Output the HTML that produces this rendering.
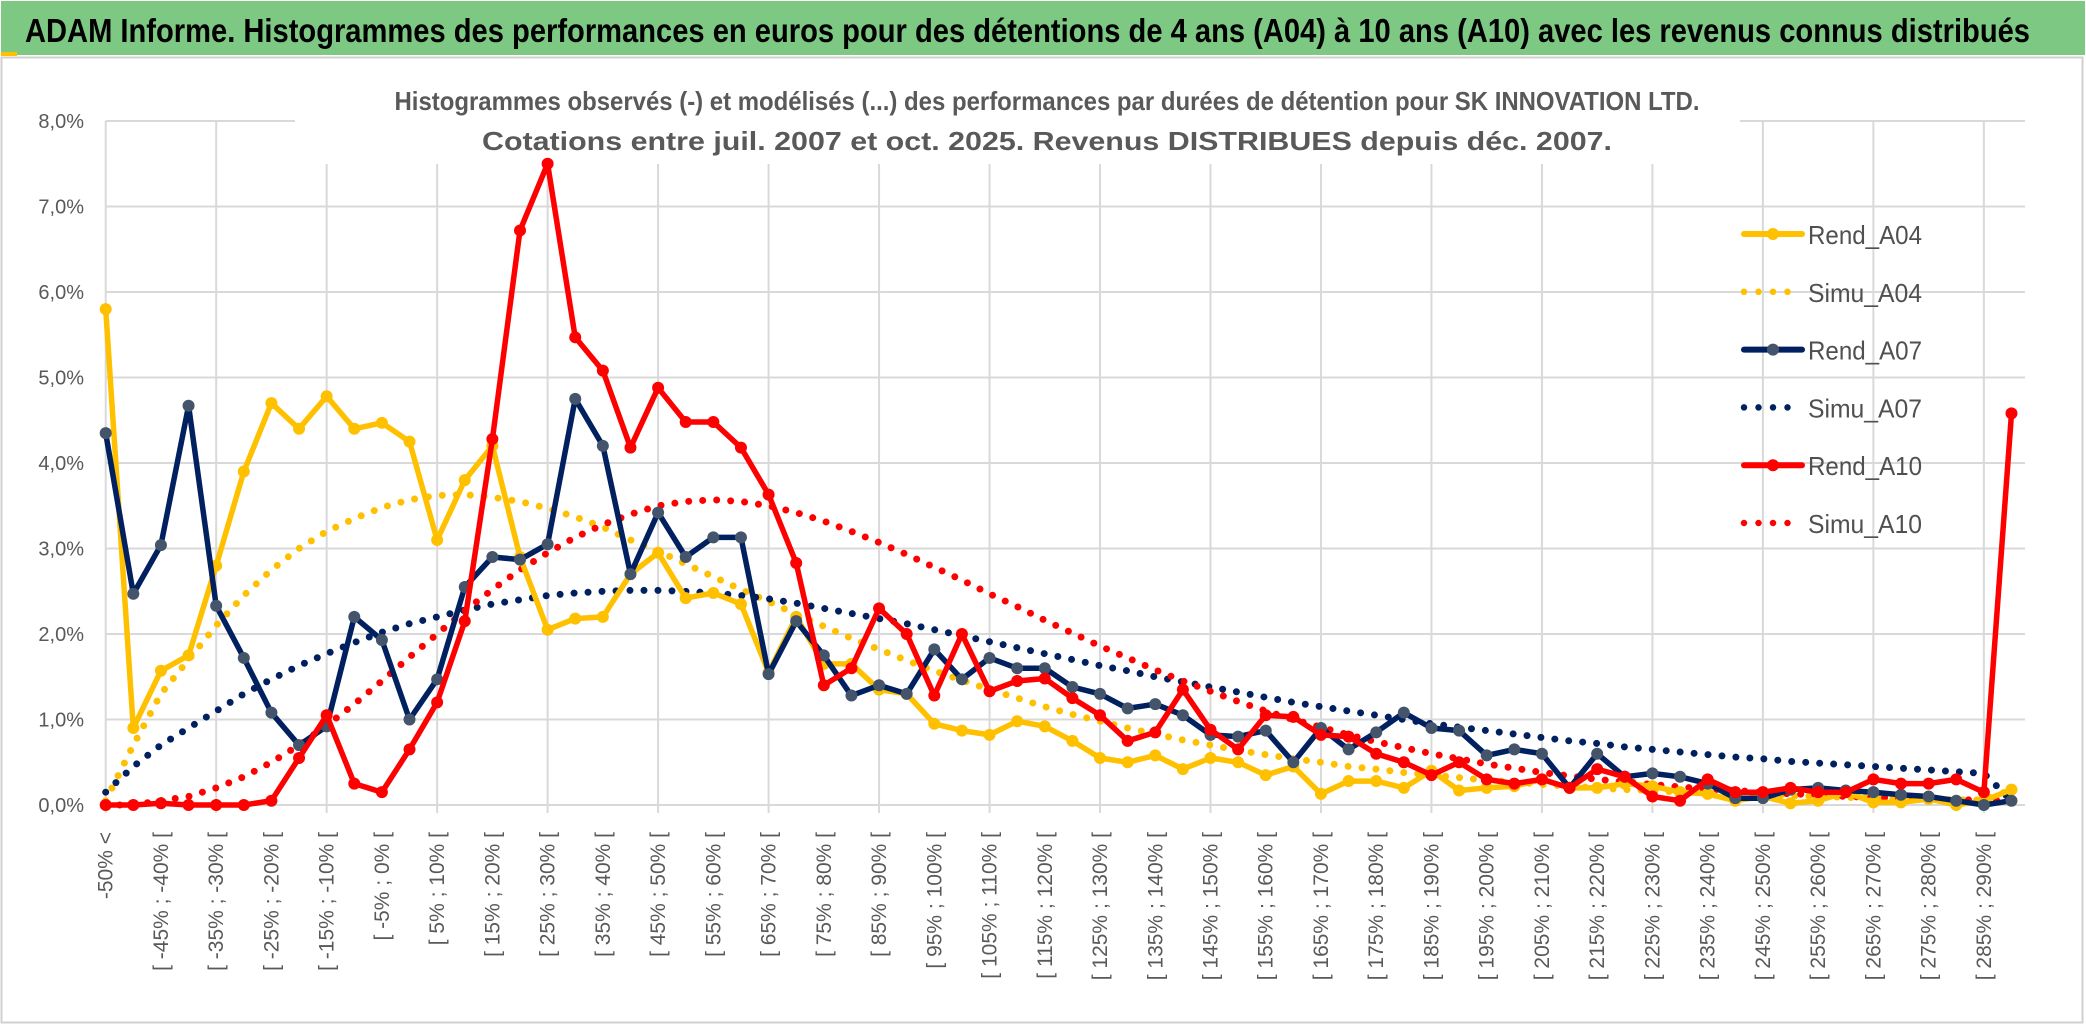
<!DOCTYPE html>
<html><head><meta charset="utf-8">
<style>
html,body{margin:0;padding:0;background:#fff;}
svg{display:block;font-family:"Liberation Sans",sans-serif;}
</style></head>
<body>
<svg id="chart" width="2086" height="1033" viewBox="0 0 2086 1033" xmlns="http://www.w3.org/2000/svg">
<rect x="0" y="0" width="2086" height="1033" fill="#fff"/>
<rect x="1" y="1" width="2084" height="54" fill="#7dc882"/>
<rect x="1" y="52" width="16" height="4" fill="#ffc000"/>
<text x="25" y="42" font-size="33" font-weight="bold" fill="#000" textLength="2005" lengthAdjust="spacingAndGlyphs">ADAM Informe. Histogrammes des performances en euros pour des détentions de 4 ans (A04) à 10 ans (A10) avec les revenus connus distribués</text>
<rect x="1.5" y="57.5" width="2081" height="965" fill="none" stroke="#d0d0d0" stroke-width="2"/>
<g id="grid"></g>
<rect x="295" y="70" width="1445" height="94" fill="#fff"/>
<text x="1047" y="110" font-size="26" font-weight="bold" fill="#595959" text-anchor="middle" textLength="1305" lengthAdjust="spacingAndGlyphs">Histogrammes observés (-) et modélisés (...) des performances par durées de détention pour SK INNOVATION LTD.</text>
<text x="1047" y="150" font-size="26" font-weight="bold" fill="#595959" text-anchor="middle" textLength="1130" lengthAdjust="spacingAndGlyphs">Cotations entre juil. 2007 et oct. 2025. Revenus DISTRIBUES depuis déc. 2007.</text>
<g id="yaxis"></g>
<g id="xaxis"></g>
<g id="series"></g>
<g id="legend"></g>
</svg>
<script>
const yTicks = [0,1,2,3,4,5,6,7,8];
const yTickLabels = ["0,0%","1,0%","2,0%","3,0%","4,0%","5,0%","6,0%","7,0%","8,0%"];
const rendA04 = [5.8,0.9,1.57,1.75,2.8,3.9,4.7,4.4,4.78,4.4,4.47,4.25,3.1,3.8,4.2,2.9,2.05,2.18,2.2,2.7,2.95,2.42,2.48,2.35,1.55,2.2,1.65,1.65,1.35,1.3,0.95,0.87,0.82,0.98,0.92,0.75,0.55,0.5,0.58,0.42,0.55,0.5,0.35,0.45,0.13,0.28,0.28,0.2,0.4,0.17,0.2,0.22,0.3,0.2,0.2,0.25,0.22,0.15,0.13,0.05,0.1,0.02,0.05,0.15,0.03,0.03,0.07,0.0,0.05,0.18];
const rendA07 = [4.35,2.47,3.04,4.67,2.33,1.72,1.08,0.7,0.92,2.2,1.93,1.0,1.47,2.55,2.9,2.87,3.05,4.75,4.2,2.7,3.42,2.9,3.13,3.13,1.53,2.15,1.75,1.28,1.4,1.3,1.82,1.47,1.72,1.6,1.6,1.38,1.3,1.13,1.18,1.05,0.82,0.8,0.87,0.5,0.9,0.65,0.85,1.08,0.9,0.87,0.58,0.65,0.6,0.2,0.6,0.33,0.37,0.33,0.25,0.08,0.08,0.18,0.2,0.17,0.15,0.12,0.1,0.05,0.0,0.05];
const rendA10 = [0,0,0.02,0,0,0,0.05,0.55,1.05,0.25,0.15,0.65,1.2,2.15,4.28,6.72,7.5,5.47,5.08,4.18,4.88,4.48,4.48,4.18,3.63,2.83,1.4,1.6,2.3,2.0,1.28,2.0,1.33,1.45,1.48,1.25,1.05,0.75,0.85,1.35,0.88,0.65,1.05,1.03,0.82,0.8,0.6,0.5,0.35,0.5,0.3,0.25,0.3,0.2,0.42,0.33,0.1,0.05,0.3,0.15,0.15,0.2,0.15,0.15,0.3,0.25,0.25,0.3,0.15,4.58];
const simuA04 = [0.05,0.7,1.3,1.7,2.1,2.45,2.75,3.0,3.2,3.35,3.48,3.57,3.62,3.63,3.6,3.55,3.47,3.37,3.25,3.1,2.97,2.82,2.67,2.52,2.38,2.23,2.09,1.95,1.82,1.69,1.57,1.46,1.35,1.25,1.15,1.06,0.98,0.9,0.83,0.76,0.7,0.64,0.59,0.54,0.5,0.45,0.42,0.38,0.35,0.32,0.29,0.27,0.24,0.22,0.2,0.18,0.17,0.15,0.14,0.13,0.12,0.11,0.1,0.09,0.08,0.07,0.07,0.06,0.06,0.18];
const simuA07 = [0.15,0.45,0.7,0.9,1.1,1.3,1.47,1.63,1.77,1.9,2.02,2.12,2.2,2.28,2.35,2.4,2.45,2.48,2.5,2.51,2.51,2.5,2.48,2.45,2.41,2.36,2.3,2.24,2.18,2.12,2.05,1.98,1.91,1.84,1.77,1.7,1.63,1.57,1.5,1.44,1.38,1.32,1.26,1.2,1.15,1.1,1.05,1.0,0.95,0.91,0.87,0.83,0.79,0.75,0.72,0.68,0.65,0.62,0.59,0.56,0.54,0.51,0.49,0.47,0.45,0.43,0.41,0.39,0.37,0.05];
const simuA10 = [0,0,0.05,0.1,0.2,0.33,0.5,0.7,0.93,1.18,1.45,1.73,2.0,2.27,2.52,2.75,2.95,3.13,3.28,3.4,3.5,3.55,3.57,3.55,3.5,3.42,3.32,3.2,3.07,2.93,2.78,2.63,2.47,2.32,2.16,2.01,1.86,1.72,1.58,1.45,1.33,1.21,1.1,1.0,0.91,0.82,0.74,0.67,0.6,0.54,0.48,0.43,0.38,0.34,0.3,0.27,0.24,0.21,0.19,0.17,0.15,0.13,0.12,0.1,0.09,0.08,0.07,0.06,0.06,0.05];
const categories = ["-50% <"];
for (let b = -50; b < 295; b += 5) categories.push("[ " + b + "% ; " + (b + 5) + "% [");

const NS = "http://www.w3.org/2000/svg";
const X0 = 105.7, DX = 27.62, Y0 = 805, DY = 85.5, XR = 2025;
function xPos(i){ return X0 + i * DX; }
function yPos(v){ return Y0 - v * DY; }
function mk(tag, attrs, parent){
  const e = document.createElementNS(NS, tag);
  for (const k in attrs) e.setAttribute(k, attrs[k]);
  parent.appendChild(e);
  return e;
}
const grid = document.getElementById('grid');
yTicks.forEach(t => {
  const l = mk('line', {x1:X0, x2:XR, y1:yPos(t), y2:yPos(t), stroke:'#d9d9d9', 'stroke-width':2}, grid);
  
  
});
for (let i = 0; i < categories.length; i += 4) {
  const l = mk('line', {x1:xPos(i), x2:xPos(i), y1:yPos(8), y2:Y0 + 8, stroke:'#d9d9d9', 'stroke-width':2}, grid);
  
  
}
const yaxis = document.getElementById('yaxis');
yTicks.forEach((t, k) => {
  const tx = mk('text', {x:84, y:yPos(t) + 7, 'font-size':20, fill:'#595959', 'text-anchor':'end'}, yaxis);
  tx.textContent = yTickLabels[k];
  
  
});
const xaxis = document.getElementById('xaxis');
categories.forEach((c, i) => {
  if (i % 2) return;
  const x = xPos(i) + 7, y = 832;
  const tx = mk('text', {x:x, y:y, 'font-size':21, fill:'#595959', 'text-anchor':'end', transform:'rotate(-90 ' + x + ' ' + y + ')'}, xaxis);
  tx.textContent = c;
  
  
});
const sg = document.getElementById('series');
function pts(arr){ return arr.map((v, i) => xPos(i).toFixed(1) + ',' + yPos(v).toFixed(1)).join(' '); }
function dotted(arr, color, name){
  const p = mk('polyline', {points:pts(arr), fill:'none', stroke:color, 'stroke-width':7, 'stroke-linecap':'round', 'stroke-dasharray':'0 14'}, sg);
  
  
}
function solid(arr, color, mcolor, name){
  const g = mk('g', {}, sg);
  
  
  mk('polyline', {points:pts(arr), fill:'none', stroke:color, 'stroke-width':5.5, 'stroke-linejoin':'round'}, g);
  arr.forEach((v, i) => {
    const c = mk('circle', {cx:xPos(i), cy:yPos(v), r:6, fill:mcolor}, g);
    
    
  });
}
dotted(simuA04, '#ffc000', 'simu-a04-line');
dotted(simuA07, '#002060', 'simu-a07-line');
dotted(simuA10, '#ff0000', 'simu-a10-line');
solid(rendA04, '#ffc000', '#ffc000', 'rend-a04-line');
solid(rendA07, '#002060', '#44546a', 'rend-a07-line');
solid(rendA10, '#ff0000', '#ff0000', 'rend-a10-line');

const legendNames = ["Rend_A04","Simu_A04","Rend_A07","Simu_A07","Rend_A10","Simu_A10"];
const legendColors = ['#ffc000','#ffc000','#002060','#002060','#ff0000','#ff0000'];
const legendMarks = ['#ffc000',null,'#44546a',null,'#ff0000',null];
const lg = document.getElementById('legend');
legendNames.forEach((n, k) => {
  const y = 234 + k * 57.8;
  const g = mk('g', {}, lg);
  
  
  if (legendMarks[k]) {
    mk('line', {x1:1744, x2:1802, y1:y, y2:y, stroke:legendColors[k], 'stroke-width':6, 'stroke-linecap':'round'}, g);
    mk('circle', {cx:1773, cy:y, r:6, fill:legendMarks[k]}, g);
  } else {
    mk('line', {x1:1744, x2:1802, y1:y, y2:y, stroke:legendColors[k], 'stroke-width':6.5, 'stroke-linecap':'round', 'stroke-dasharray':'0 14.5'}, g);
  }
  const t = mk('text', {x:1808, y:y + 10, 'font-size':26, fill:'#505050', textLength:114, lengthAdjust:'spacingAndGlyphs'}, g);
  t.textContent = n;
});
</script>
</body></html>
